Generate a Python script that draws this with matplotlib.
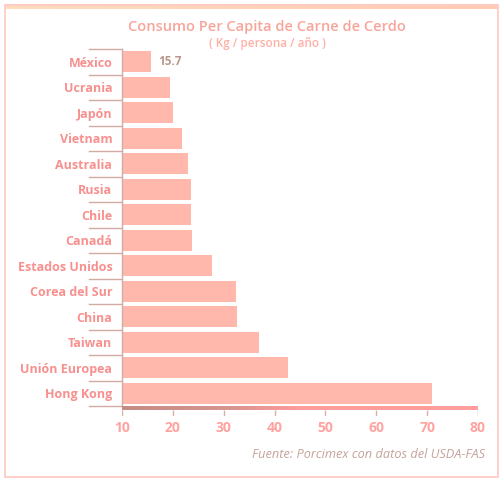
import matplotlib
matplotlib.use("Agg")
import matplotlib.pyplot as plt
import numpy as np
from matplotlib.colors import LinearSegmentedColormap
from matplotlib.patches import Rectangle
import matplotlib.transforms as mtransforms

categories = ["México", "Ucrania", "Japón", "Vietnam", "Australia", "Rusia", "Chile",
              "Canadá", "Estados Unidos", "Corea del Sur", "China", "Taiwan",
              "Unión Europea", "Hong Kong"]
values = [15.7, 19.4, 20.0, 21.7, 23.0, 23.6, 23.6, 23.7, 27.7, 32.5, 32.7, 36.9, 42.7, 71.0]
xticks = [10, 20, 30, 40, 50, 60, 70, 80]
title = "Consumo Per Capita de Carne de Cerdo"
subtitle = "( Kg / persona / año )"
source = "Fuente: Porcimex con datos del USDA-FAS"

FONT = ["Open Sans", "DejaVu Sans"]
plt.rcParams["font.family"] = FONT

W, H = 503, 480
fig = plt.figure(figsize=(W / 100, H / 100), dpi=100)
fig.patch.set_facecolor("white")

# outer frame
fig.patches.append(Rectangle((5 / W, 1 - 477 / H), 493 / W, (477 - 5) / H,
                             transform=fig.transFigure, fill=False,
                             edgecolor="#FFCBC4", linewidth=1.3))
# top band gradient
band = fig.add_axes([5 / W, 1 - 9.5 / H, 493 / W, 6 / H])
band.imshow(np.linspace(0, 1, 256).reshape(1, -1), aspect="auto",
            cmap=LinearSegmentedColormap.from_list("b", ["#FFDDBC", "#FFC9B2"]),
            extent=[0, 1, 0, 1])
band.set_axis_off()

left, right, top, bottom = 122, 478, 49, 406
ax = fig.add_axes([left / W, 1 - bottom / H, (right - left) / W, (bottom - top) / H])
y = np.arange(len(categories))
ax.barh(y, np.array(values) - 10, left=10, height=0.81, color="#FFB8AB",
        edgecolor="none", zorder=2)
ax.set_xlim(10, 80)
ax.set_ylim(len(categories) - 0.5, -0.5)

for s in ["top", "right", "bottom"]:
    ax.spines[s].set_visible(False)
ax.spines["left"].set_color("#D2ACA4")
ax.spines["left"].set_linewidth(1.0)

ax.set_yticks(y)
ax.set_yticklabels(categories, fontsize=9, fontweight="bold", color="#F7908E")
ax.tick_params(axis="y", length=0, pad=7)

ax.set_xticks(xticks)
ax.set_xticklabels([str(t) for t in xticks], fontsize=10, fontweight="bold", color="#FFA3A0")
ax.tick_params(axis="x", length=0, pad=10.5)

# separators at category boundaries
trans = mtransforms.blended_transform_factory(ax.transAxes, ax.transData)
x0 = (89 - left) / (right - left)
for b in np.arange(-0.5, len(categories), 1.0):
    ax.plot([x0, 0], [b, b], transform=trans, color="#D2ACA4", lw=1.0,
            clip_on=False, zorder=3)

# value label
ax.text(values[0] + 1.5, 0, f"{values[0]:.1f}", va="center", ha="left",
        fontsize=8.5, fontweight="bold", color="#B8978D")

# bottom gradient axis bar
gb = fig.add_axes([left / W, 1 - 410 / H, (right - left) / W, 4 / H])
gb.imshow(np.linspace(0, 1, 256).reshape(1, -1), aspect="auto",
          cmap=LinearSegmentedColormap.from_list(
              "g", [(0, "#C48C84"), (0.3, "#D89490"), (0.5, "#FF9C9C"), (1, "#FF9E9E")]),
          extent=[10, 80, 0, 1])
gb.set_xlim(10, 80)
gb.set_axis_off()
# tick marks below
tk = fig.add_axes([left / W, 1 - 416 / H, (right - left) / W, 6 / H])
tk.set_xlim(10, 80)
tk.set_ylim(0, 1)
tk.vlines(xticks, 0, 1, color="#D8B0A8", lw=1.0)
tk.set_axis_off()

fig.text(267 / W, 1 - 27 / H, title, ha="center", va="center", fontsize=10.5,
         fontweight="semibold", color="#F9A49A")
fig.text(267 / W, 1 - 44 / H, subtitle, ha="center", va="center", fontsize=8.5,
         fontweight="semibold", color="#FFB0A5")
fig.text(485 / W, 1 - 455 / H, source, ha="right", va="center", fontsize=9.2,
         style="italic", color="#C4A39B")

fig.savefig("out.png", dpi=100, facecolor="white")
